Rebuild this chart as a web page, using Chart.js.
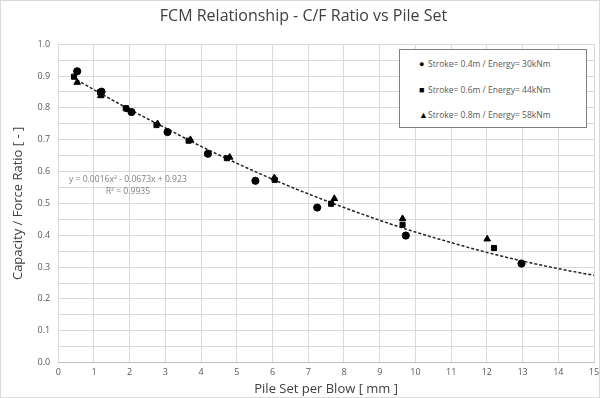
<!DOCTYPE html>
<html>
<head>
<meta charset="utf-8">
<script src="https://cdn.jsdelivr.net/npm/chart.js@4.4.1/dist/chart.umd.min.js"></script>
<style>
  body { margin: 0; background: #fff; }
  #wrap { position: relative; width: 598px; height: 396px; border: 1px solid #d9d9d9; overflow: hidden; }
  #legend {
    position: absolute; left: 398px; top: 48px; width: 186px; height: 77px;
    border: 1px solid #7f7f7f; background: #fff;
    font-family: "Open Sans", sans-serif; font-size: 8.5px; color: #595959;
  }
  #legend div { position: absolute; left: 19px; white-space: nowrap; }
  #legend span { color: #000; display: inline-block; width: 9px; font-size: 9px; }
  #eq {
    position: absolute; left: 68px; top: 172px; font-family: "Open Sans", sans-serif;
    font-size: 8.6px; color: #7f7f7f; text-align: center; line-height: 12px;
  }
</style>
</head>
<body>
<div id="wrap">
  <canvas id="grafico" width="598" height="396"></canvas>
  <div id="legend">
    <div style="top:7px"><span>●</span>Stroke= 0.4m / Energy= 30kNm</div>
    <div style="top:33px"><span>■</span>Stroke= 0.6m / Energy= 44kNm</div>
    <div style="top:58px"><span>▲</span>Stroke= 0.8m / Energy= 58kNm</div>
  </div>
  <div id="eq">y = 0.0016x² - 0.0673x + 0.923<br>R² = 0.9935</div>
</div>
<script>
// dados
const setCirculo = [0.53, 1.21, 2.05, 3.06, 4.19, 5.52, 7.25, 9.73, 12.97];
const cfCirculo  = [0.915, 0.851, 0.787, 0.724, 0.656, 0.571, 0.487, 0.399, 0.311];

const setQuadrado = [0.44, 1.17, 1.89, 2.75, 3.65, 4.72, 6.06, 7.64, 9.64, 12.2];
const cfQuadrado  = [0.898, 0.849, 0.799, 0.746, 0.697, 0.642, 0.574, 0.499, 0.433, 0.36];

const setTriangulo = [0.53, 1.19, 1.95, 2.78, 3.7, 4.8, 6.05, 7.73, 9.64, 12.01];
const cfTriangulo  = [0.880, 0.838, 0.795, 0.75, 0.70, 0.645, 0.58, 0.515, 0.452, 0.388];

const setTendencia = [0.4, 1, 2, 3, 4, 5, 6, 7, 8, 9, 10, 11, 12, 13, 14, 15];
const cfTendencia  = [0.896, 0.857, 0.795, 0.737, 0.679, 0.626, 0.576, 0.530, 0.487, 0.447, 0.410, 0.377, 0.346, 0.319, 0.295, 0.274];

const pontos = (xs, ys) => xs.map((x, i) => ({ x: x, y: ys[i] }));

const ctx = document.getElementById("grafico");

new Chart(ctx, {
  type: "scatter",
  data: {
    datasets: [
      {
        label: "Stroke= 0.4m / Energy= 30kNm",
        data: pontos(setCirculo, cfCirculo),
        pointStyle: "circle",
        pointRadius: 3.6,
        backgroundColor: "#000",
        borderColor: "#000",
      },
      {
        label: "Stroke= 0.6m / Energy= 44kNm",
        data: pontos(setQuadrado, cfQuadrado),
        pointStyle: "rect",
        pointRadius: 3.6,
        backgroundColor: "#000",
        borderColor: "#000",
      },
      {
        label: "Stroke= 0.8m / Energy= 58kNm",
        data: pontos(setTriangulo, cfTriangulo),
        pointStyle: "triangle",
        pointRadius: 3.8,
        backgroundColor: "#000",
        borderColor: "#000",
      },
      {
        label: "Tendencia",
        data: pontos(setTendencia, cfTendencia),
        showLine: true,
        pointRadius: 0,
        borderColor: "#222",
        borderWidth: 1.5,
        borderDash: [3, 2],
        cubicInterpolationMode: "monotone",
      },
    ],
  },
  options: {
    responsive: false,
    animation: false,
    layout: { padding: { left: 9, right: 2, bottom: 0 } },
    plugins: {
      legend: { display: false },
      tooltip: { enabled: false },
      title: {
        display: true,
        text: "FCM Relationship - C/F Ratio vs Pile Set",
        color: "#404040",
        font: { size: 16, family: "Open Sans", weight: "normal" },
        padding: { top: 6, bottom: 18 },
      },
    },
    scales: {
      x: {
        type: "linear",
        min: 0,
        max: 15,
        afterFit: function (s) { s.paddingRight = 0; }, // deixa o "15" encostar na borda
        ticks: { stepSize: 1, color: "#595959", font: { size: 9, family: "Open Sans" }, padding: 4 },
        grid: { color: "#d9d9d9", drawTicks: false },
        border: { color: "#bfbfbf" },
        title: {
          display: true,
          text: "Pile Set per Blow [ mm ]",
          color: "#404040",
          font: { size: 13, family: "Open Sans" },
          padding: { top: 0, bottom: 0 },
        },
      },
      y: {
        min: 0,
        max: 1,
        ticks: {
          stepSize: 0.05,
          color: "#595959",
          font: { size: 9, family: "Open Sans" },
          padding: 8,
          callback: function (v) {
            // so mostra rotulos a cada 0.1
            return Math.round(v * 100) % 10 === 0 ? v.toFixed(1) : "";
          },
        },
        grid: { color: "#d9d9d9", drawTicks: false },
        border: { display: false },
        title: {
          display: true,
          text: "Capacity / Force Ratio [ - ]",
          color: "#404040",
          font: { size: 13, family: "Open Sans" },
          padding: { top: 0, bottom: 4 },
        },
      },
    },
  },
});
</script>
</body>
</html>
